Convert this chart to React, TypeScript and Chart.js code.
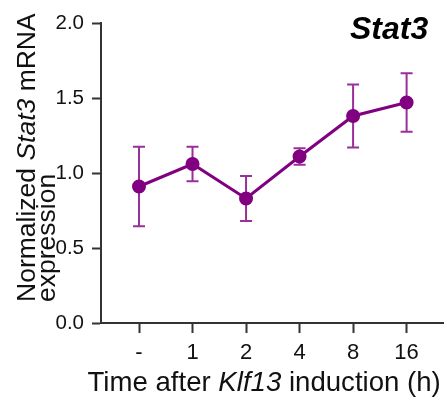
import React, { useEffect, useRef } from "react";
import { Chart, registerables } from "chart.js";

Chart.register(...registerables);

const timepoints = ["-", "1", "2", "4", "8", "16"];
const meanExpression = [0.91, 1.06, 0.83, 1.11, 1.38, 1.47];
const errorExpression = [0.265, 0.115, 0.15, 0.055, 0.21, 0.195];
const yTickValues = [0, 0.5, 1, 1.5, 2];

const FONT = "'Liberation Sans', Arial, sans-serif";
const PURPLE = "#800080";
const ERR_PURPLE = "#9a2f9a";
const AXIS = "#333333";

const errorBarPlugin = {
  id: "errorBars",
  beforeDatasetsDraw(chart: any) {
    const ctx = chart.ctx;
    const xs = chart.scales.x;
    const ys = chart.scales.y;
    ctx.save();
    ctx.strokeStyle = ERR_PURPLE;
    ctx.lineWidth = 2;
    meanExpression.forEach((m, i) => {
      const x = xs.getPixelForValue(i);
      const top = ys.getPixelForValue(m + errorExpression[i]);
      const bot = ys.getPixelForValue(m - errorExpression[i]);
      const cap = 6;
      ctx.beginPath();
      ctx.moveTo(x, top);
      ctx.lineTo(x, bot);
      ctx.moveTo(x - cap, top);
      ctx.lineTo(x + cap, top);
      ctx.moveTo(x - cap, bot);
      ctx.lineTo(x + cap, bot);
      ctx.stroke();
    });
    ctx.restore();
  },
};

export default function App() {
  const ref = useRef<HTMLCanvasElement>(null);

  useEffect(() => {
    if (!ref.current) return;
    const chart = new Chart(ref.current, {
      type: "line",
      data: {
        datasets: [
          {
            data: meanExpression.map((v, i) => ({ x: i, y: v })),
            borderColor: PURPLE,
            backgroundColor: PURPLE,
            borderWidth: 3,
            pointRadius: 5.5,
            pointBackgroundColor: PURPLE,
            pointBorderColor: PURPLE,
            tension: 0,
          },
        ],
      },
      options: {
        responsive: false,
        animation: false,
        events: [],
        layout: { autoPadding: false, padding: { left: 0, right: 4, top: 23, bottom: 0 } },
        plugins: { legend: { display: false }, tooltip: { enabled: false } },
        scales: {
          x: {
            type: "linear",
            min: -0.71,
            max: 5.68,
            afterBuildTicks: (scale: any) => {
              scale.ticks = timepoints.map((_, i) => ({ value: i }));
            },
            afterFit: (scale: any) => {
              scale.height = 82;
            },
            ticks: {
              callback: (v: any) => timepoints[Math.round(Number(v))] ?? "",
              color: "#111",
              font: { family: FONT, size: 22 },
              padding: 7,
              maxRotation: 0,
              autoSkip: false,
            },
            grid: {
              drawOnChartArea: false,
              drawTicks: true,
              tickLength: 10,
              tickColor: AXIS,
              tickWidth: 2,
            },
            border: { display: true, color: AXIS, width: 2 },
          },
          y: {
            min: 0,
            max: 2,
            afterBuildTicks: (scale: any) => {
              scale.ticks = yTickValues.map((v) => ({ value: v }));
            },
            afterFit: (scale: any) => {
              scale.width = 101;
            },
            ticks: {
              callback: (v: any) => Number(v).toFixed(1),
              color: "#111",
              font: { family: FONT, size: 20.5 },
              padding: 8,
            },
            grid: {
              drawOnChartArea: false,
              drawTicks: true,
              tickLength: 9,
              tickColor: AXIS,
              tickWidth: 2,
            },
            border: { display: true, color: AXIS, width: 2 },
          },
        },
      },
      plugins: [errorBarPlugin],
    });
    return () => chart.destroy();
  }, []);

  const textBase: React.CSSProperties = {
    position: "absolute",
    fontFamily: FONT,
    whiteSpace: "nowrap",
    color: "#111",
    margin: 0,
  };

  return (
    <div style={{ position: "absolute", left: 0, top: 0, width: 447, height: 405, background: "#fff" }}>
      <canvas ref={ref} width={447} height={405} style={{ position: "absolute", left: 0, top: 0, width: 447, height: 405 }} />
      <div style={{ ...textBase, left: 350, top: 12, fontSize: 32, lineHeight: "32px", fontWeight: "bold", fontStyle: "italic", color: "#000" }}>
        Stat3
      </div>
      <div style={{ ...textBase, left: 87.5, top: 368.3, fontSize: 27.6, lineHeight: "27.6px" }}>
        Time after <i>Klf13</i> induction (h)
      </div>
      <div
        style={{
          ...textBase,
          left: 12.6,
          top: 302,
          fontSize: 26.5,
          lineHeight: "26.5px",
          transformOrigin: "left top",
          transform: "rotate(-90deg)",
        }}
      >
        Normalized <i>Stat3</i> mRNA
      </div>
      <div
        style={{
          ...textBase,
          left: 32.6,
          top: 302,
          fontSize: 26.5,
          lineHeight: "26.5px",
          transformOrigin: "left top",
          transform: "rotate(-90deg)",
        }}
      >
        expression
      </div>
    </div>
  );
}
